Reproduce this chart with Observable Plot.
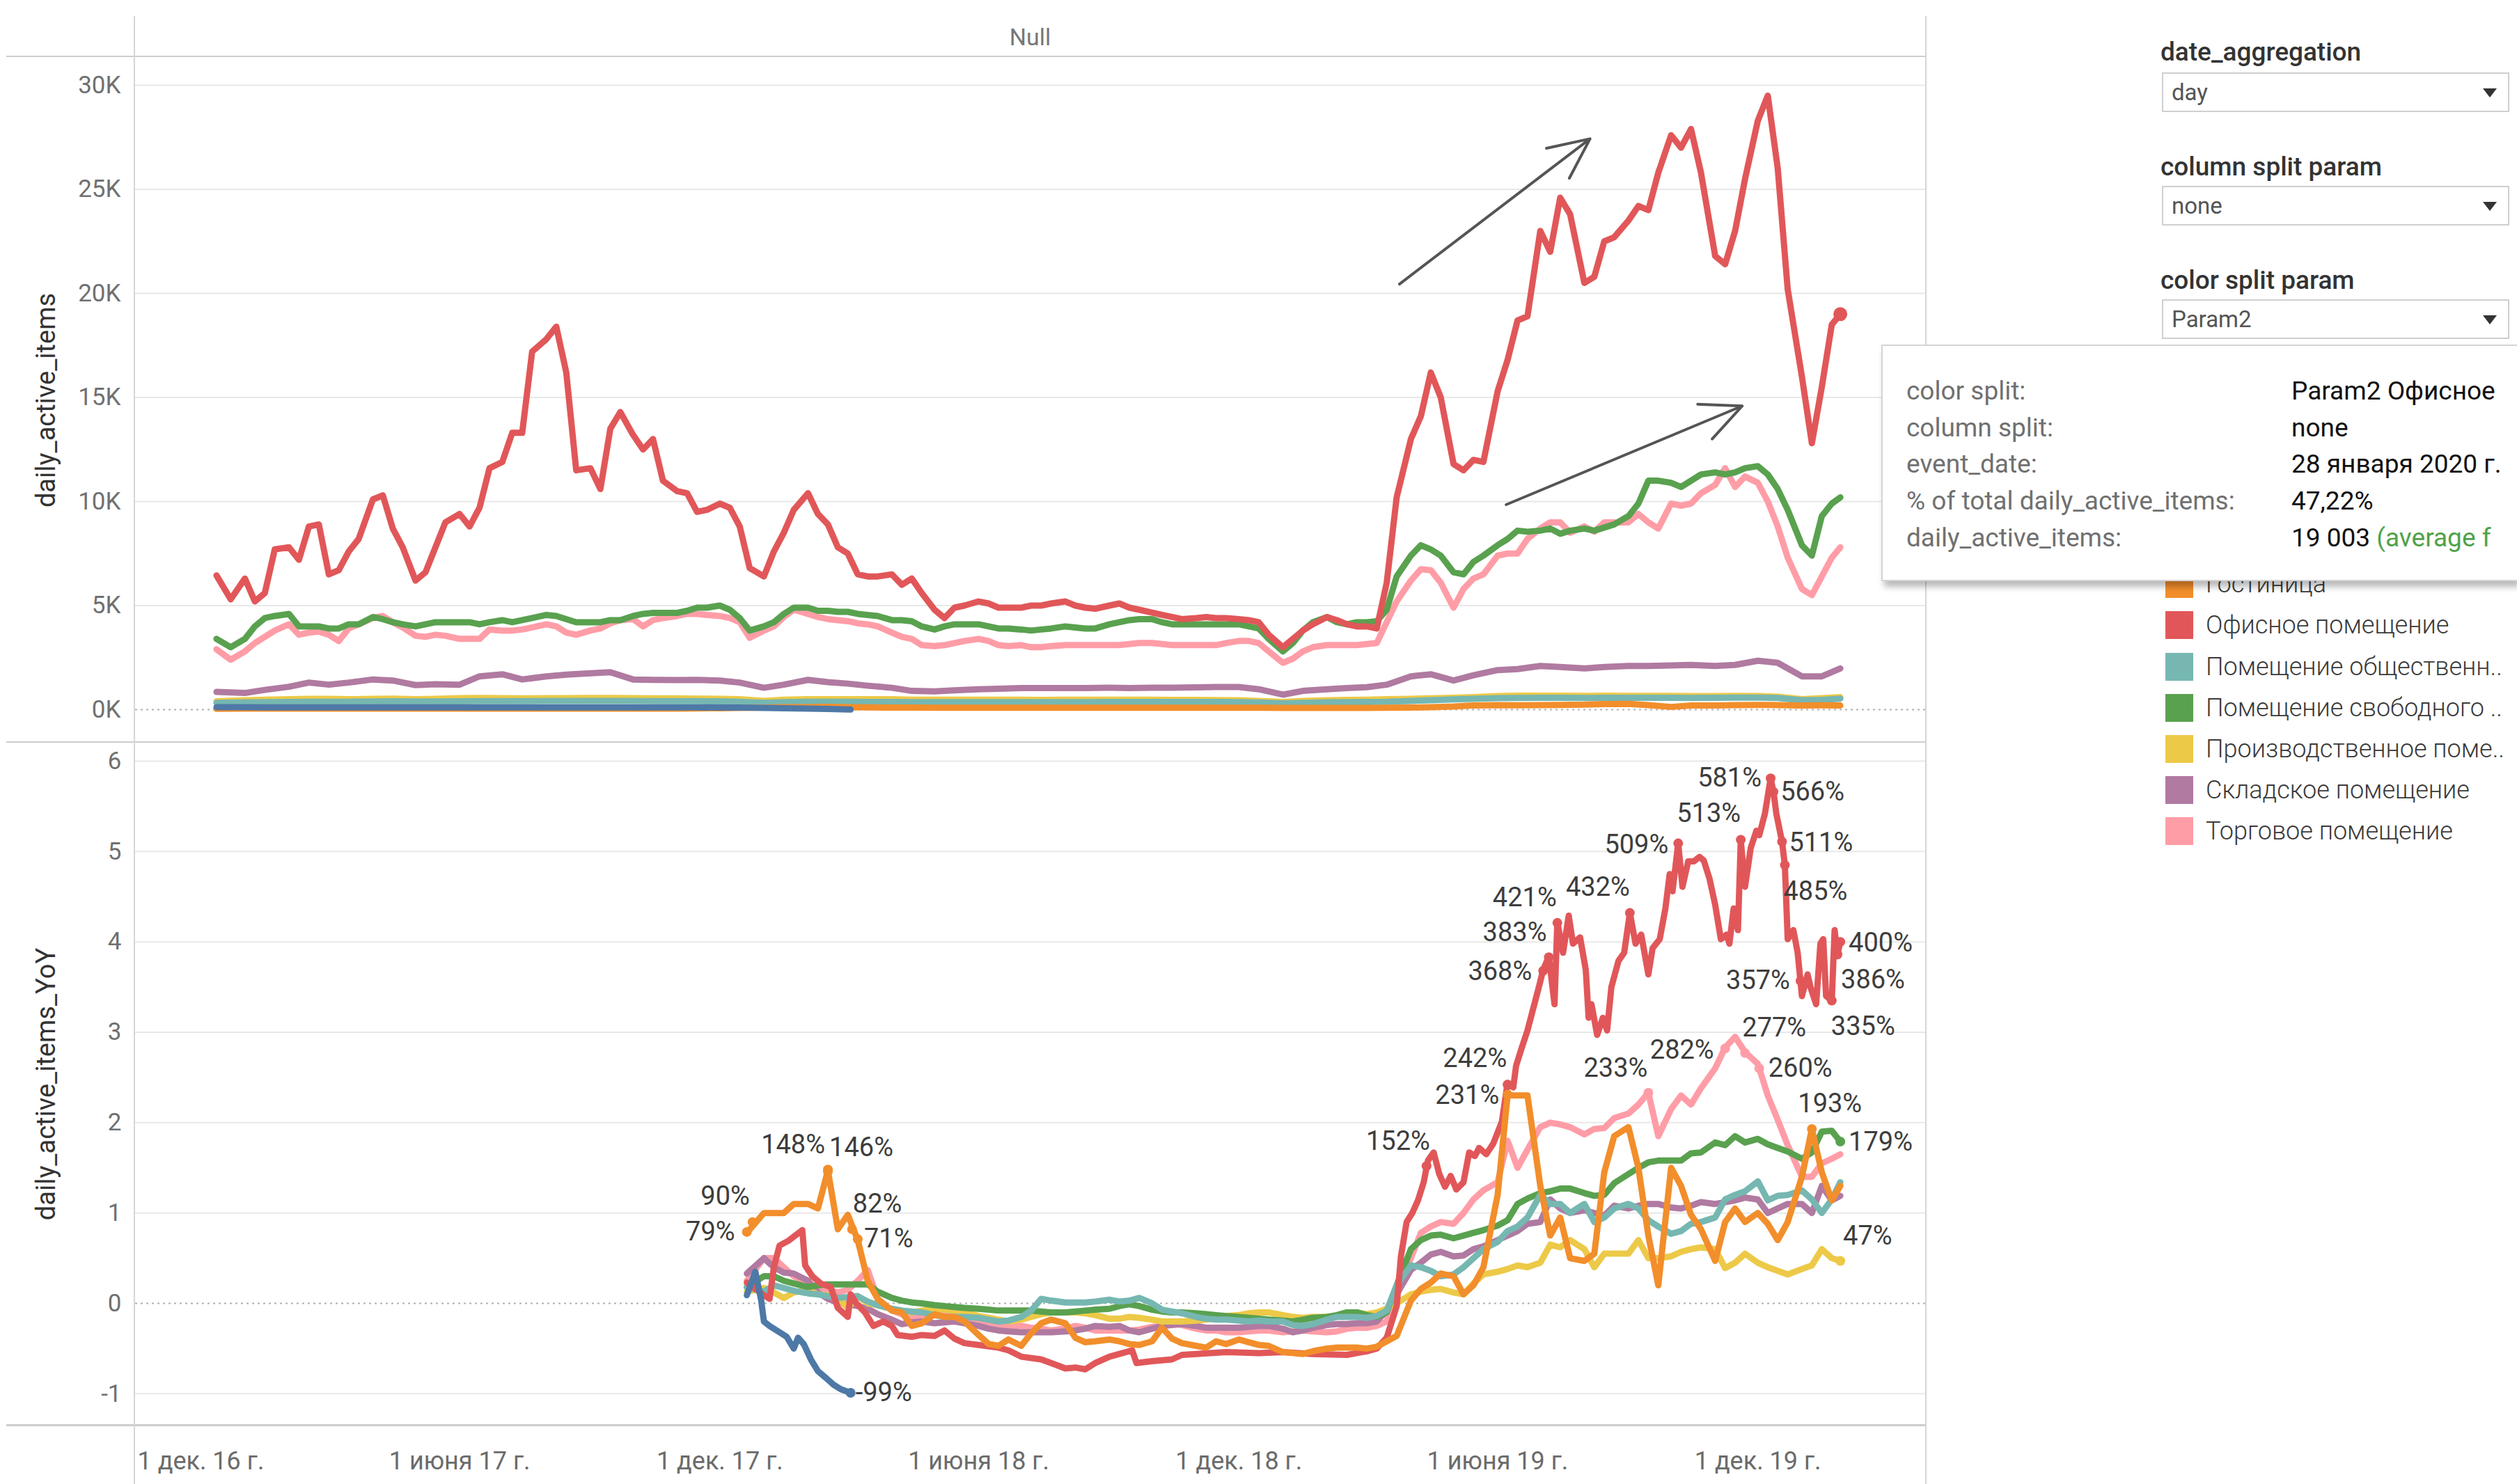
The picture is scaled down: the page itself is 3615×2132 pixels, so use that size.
<!DOCTYPE html>
<html><head><meta charset="utf-8">
<script src="https://cdn.jsdelivr.net/npm/d3@7"></script>
<script src="https://cdn.jsdelivr.net/npm/@observablehq/plot@0.6"></script>
<style>
html,body{margin:0;padding:0}
body{width:3615px;height:2132px;overflow:hidden;background:#fff;position:relative;font-family:Roboto,"Noto Sans",sans-serif}
.abs{position:absolute}
.hline{position:absolute;background:#cdcdcd}
.vline{position:absolute;background:#d6d6d6}
.plabel{position:absolute;left:3103px;font-weight:500;font-size:37px;line-height:42px;color:#333;white-space:nowrap}
.box{position:absolute;left:3105px;width:495px;height:53px;border:2px solid #cfcfcf;background:#fff}
.box .val{position:absolute;left:12px;top:0;line-height:53px;font-size:33px;color:#555}
.box .tri{position:absolute;left:459px;top:21px;width:0;height:0;border-left:10px solid transparent;border-right:10px solid transparent;border-top:13px solid #333}
.lgsw{position:absolute;left:3110px;width:40px;height:40px}
.lgtx{position:absolute;left:3168px;font-size:36px;line-height:44px;color:#3a3a3a;font-weight:300;white-space:nowrap}
.tip{position:absolute;left:2702px;top:495px;width:911px;height:336px;background:#fff;border:2px solid #d4d4d4;border-right:none;box-shadow:4px 8px 9px rgba(0,0,0,0.28);z-index:5;overflow:hidden}
.tip .tl{position:absolute;left:34px;font-size:37px;line-height:44px;color:#707070;white-space:nowrap}
.tip .tv{position:absolute;left:587px;font-size:37px;line-height:44px;color:#111;white-space:nowrap}
</style></head>
<body>
<div id="topChart" class="abs" style="left:0;top:82px"></div>
<div id="bottomChart" class="abs" style="left:0;top:1067px"></div>

<div class="hline" style="left:9px;top:80px;width:2757px;height:2px"></div>
<div class="hline" style="left:9px;top:1065px;width:2757px;height:2px"></div>
<div class="hline" style="left:9px;top:2046px;width:2757px;height:3px"></div>
<div class="vline" style="left:192px;top:23px;width:2px;height:2109px"></div>
<div class="vline" style="left:2765px;top:23px;width:2px;height:2109px"></div>
<div id="header" class="abs" style="left:194px;top:33px;width:2571px;text-align:center;font-size:34px;line-height:40px;color:#777"></div>

<div id="panel"></div>

<script>
// ---------------- DATA ----------------
const headerText = "Null";
const topAxisTitle = "daily_active_items";
const bottomAxisTitle = "daily_active_items_YoY";

const topTicks = [0, 5, 10, 15, 20, 25, 30];
const topTickLabels = ["0K", "5K", "10K", "15K", "20K", "25K", "30K"];
const bottomTicks = [-1, 0, 1, 2, 3, 4, 5, 6];
const bottomTickLabels = ["-1", "0", "1", "2", "3", "4", "5", "6"];
const xTickDates = ["2016-12-01", "2017-06-01", "2017-12-01", "2018-06-01", "2018-12-01", "2019-06-01", "2019-12-01"];
const xTickLabels = ["1 дек. 16 г.", "1 июня 17 г.", "1 дек. 17 г.", "1 июня 18 г.", "1 дек. 18 г.", "1 июня 19 г.", "1 дек. 19 г."];

const categories = ["Гостиница", "Офисное помещение", "Помещение общественн..", "Помещение свободного ..", "Производственное поме..", "Складское помещение", "Торговое помещение"];
const categoryColors = ["#f28e2b", "#e15759", "#76b7b2", "#59a14f", "#edc948", "#b07aa1", "#ff9da7"];
const hiddenCategory = "hidden"; // first legend entry, covered by the tooltip
const hiddenColor = "#4e79a7";

const paramLabels = ["date_aggregation", "column split param", "color split param"];
const paramValues = ["day", "none", "Param2"];

const tooltipLabels = ["color split:", "column split:", "event_date:", "% of total daily_active_items:", "daily_active_items:"];
const tooltipValues = ["Param2 Офисное", "none", "28 января 2020 г.", "47,22%", "19 003"];
const tooltipNote = "(average f";
const hoverPoint = {date: "2020-01-28", value: 19.003};

// weekly grid for the main series (thousands of items)
const weekDates = [
"2016-12-12","2016-12-22",
"2017-01-01","2017-01-08","2017-01-15","2017-01-22","2017-02-01","2017-02-08","2017-02-15","2017-02-22",
"2017-03-01","2017-03-08","2017-03-15","2017-03-22","2017-04-01","2017-04-08","2017-04-15","2017-04-22",
"2017-05-01","2017-05-08","2017-05-15","2017-05-22","2017-06-01","2017-06-08","2017-06-15","2017-06-22",
"2017-07-01","2017-07-08","2017-07-15","2017-07-22","2017-08-01","2017-08-08","2017-08-15","2017-08-22",
"2017-09-01","2017-09-08","2017-09-15","2017-09-22","2017-10-01","2017-10-08","2017-10-15","2017-10-22",
"2017-11-01","2017-11-08","2017-11-15","2017-11-22","2017-12-01","2017-12-08","2017-12-15","2017-12-22",
"2018-01-01","2018-01-08","2018-01-15","2018-01-22","2018-02-01","2018-02-08","2018-02-15","2018-02-22",
"2018-03-01","2018-03-08","2018-03-15","2018-03-22","2018-04-01","2018-04-08","2018-04-15","2018-04-22",
"2018-05-01","2018-05-08","2018-05-15","2018-05-22","2018-06-01","2018-06-08","2018-06-15","2018-06-22",
"2018-07-01","2018-07-08","2018-07-15","2018-07-22","2018-08-01","2018-08-08","2018-08-15","2018-08-22",
"2018-09-01","2018-09-08","2018-09-15","2018-09-22","2018-10-01","2018-10-08","2018-10-15","2018-10-22",
"2018-11-01","2018-11-08","2018-11-15","2018-11-22","2018-12-01","2018-12-08","2018-12-15","2018-12-22",
"2019-01-01","2019-01-08","2019-01-15","2019-01-22","2019-02-01","2019-02-08","2019-02-15","2019-02-22",
"2019-03-01","2019-03-08","2019-03-15","2019-03-22","2019-04-01","2019-04-08","2019-04-15","2019-04-22",
"2019-05-01","2019-05-08","2019-05-15","2019-05-22","2019-06-01","2019-06-08","2019-06-15","2019-06-22",
"2019-07-01","2019-07-08","2019-07-15","2019-07-22","2019-08-01","2019-08-08","2019-08-15","2019-08-22",
"2019-09-01","2019-09-08","2019-09-15","2019-09-22","2019-10-01","2019-10-08","2019-10-15","2019-10-22",
"2019-11-01","2019-11-08","2019-11-15","2019-11-22","2019-12-01","2019-12-08","2019-12-15","2019-12-22",
"2020-01-01","2020-01-08","2020-01-15","2020-01-22","2020-01-28"];

const officeTop = [6.45,5.3,
6.3,5.2,5.6,7.7, 7.8,7.2,8.8,8.9, 6.5,6.7,7.6,8.2, 10.1,10.3,8.7,7.8, 6.2,6.6,7.8,9.0, 9.4,8.8,9.7,11.6,
11.9,13.3,13.3,17.2, 17.8,18.4,16.2,11.5, 11.6,10.6,13.5,14.3, 13.2,12.5,13.0,11.0, 10.5,10.4,9.5,9.6, 9.9,9.7,8.8,6.8,
6.4,7.6,8.5,9.6, 10.4,9.4,8.9,7.8, 7.5,6.5,6.4,6.4, 6.5,6.0,6.3,5.6, 4.8,4.4,4.9,5.0, 5.2,5.1,4.9,4.9,
4.9,5.0,5.0,5.1, 5.2,5.0,4.9,4.85, 5.0,5.1,4.9,4.8, 4.66,4.55,4.45,4.35, 4.4,4.45,4.4,4.4, 4.35,4.3,4.2,3.6,
3.0,3.4,3.8,4.1, 4.45,4.3,4.1,4.0, 4.0,3.9,6.1,10.2, 13.0,14.1,16.2,15.0, 11.8,11.5,12.0,11.9, 15.3,16.8,18.7,18.9,
23.0,22.0,24.6,23.8, 20.5,20.8,22.5,22.7, 23.5,24.2,24.0,25.8, 27.6,27.0,27.9,25.8, 21.8,21.4,23.0,25.5, 28.3,29.5,26.0,20.2,
16.0,12.8,15.5,18.5,19.003];

const freeTop = [3.4,3.0,
3.4,4.0,4.4,4.5, 4.6,4.0,4.0,4.0, 3.9,3.9,4.1,4.1, 4.45,4.35,4.2,4.1, 4.0,4.1,4.2,4.2, 4.2,4.2,4.1,4.2,
4.3,4.2,4.3,4.4, 4.55,4.5,4.35,4.2, 4.2,4.2,4.3,4.3, 4.5,4.6,4.65,4.65, 4.65,4.75,4.9,4.9, 5.0,4.8,4.4,3.8,
4.0,4.2,4.6,4.9, 4.9,4.75,4.75,4.7, 4.7,4.6,4.55,4.5, 4.3,4.3,4.25,4.0, 3.85,4.0,4.1,4.1, 4.1,4.0,3.9,3.9,
3.85,3.8,3.85,3.9, 4.0,3.95,3.9,3.9, 4.1,4.2,4.3,4.35, 4.35,4.2,4.1,4.1, 4.1,4.1,4.1,4.1, 4.1,4.0,3.9,3.4,
2.8,3.2,3.8,4.2, 4.45,4.2,4.1,4.2, 4.2,4.25,4.8,6.4, 7.4,7.9,7.7,7.4, 6.6,6.5,7.1,7.4, 7.9,8.2,8.6,8.55,
8.6,8.7,8.45,8.6, 8.7,8.6,8.75,8.9, 9.3,9.9,11.0,11.0, 10.9,10.7,11.0,11.3, 11.4,11.3,11.4,11.6, 11.7,11.3,10.6,9.6,
7.9,7.4,9.3,9.9,10.2];

const retailTop = [2.9,2.4,
2.8,3.2,3.5,3.8, 4.1,3.6,3.7,3.75, 3.6,3.3,3.9,4.1, 4.4,4.5,4.2,3.95, 3.55,3.5,3.6,3.55, 3.4,3.4,3.4,3.85,
3.8,3.8,3.85,3.95, 4.1,4.0,3.7,3.6, 3.8,3.9,4.15,4.3, 4.35,4.0,4.3,4.4, 4.5,4.6,4.6,4.55, 4.5,4.4,4.2,3.45,
3.8,4.0,4.45,4.8, 4.6,4.45,4.35,4.3, 4.25,4.15,4.1,4.0, 3.7,3.5,3.4,3.1, 3.05,3.1,3.2,3.3, 3.4,3.3,3.1,3.05,
3.1,3.0,3.0,3.05, 3.1,3.1,3.1,3.1, 3.1,3.1,3.15,3.2, 3.2,3.15,3.1,3.1, 3.1,3.1,3.1,3.2, 3.3,3.3,3.2,2.8,
2.25,2.45,2.8,3.0, 3.1,3.1,3.1,3.1, 3.15,3.2,4.2,5.2, 6.2,6.75,6.7,6.1, 4.9,5.8,6.3,6.5, 7.4,7.5,7.5,8.2,
8.7,9.0,9.0,8.5, 8.8,8.55,9.0,9.0, 9.0,9.4,9.0,8.7, 9.9,9.8,9.9,10.4, 10.8,11.6,10.7,11.2, 10.9,10.0,8.8,7.3,
5.8,5.5,6.4,7.3,7.8];

// half-month grid for the small series (thousands of items)
const halfMonthDates = [
"2016-12-12",
"2017-01-01","2017-01-15","2017-02-01","2017-02-15","2017-03-01","2017-03-15","2017-04-01","2017-04-15",
"2017-05-01","2017-05-15","2017-06-01","2017-06-15","2017-07-01","2017-07-15","2017-08-01","2017-08-15",
"2017-09-01","2017-09-15","2017-10-01","2017-10-15","2017-11-01","2017-11-15","2017-12-01","2017-12-15",
"2018-01-01","2018-01-15","2018-02-01","2018-02-15","2018-03-01","2018-03-15","2018-04-01","2018-04-15",
"2018-05-01","2018-05-15","2018-06-01","2018-06-15","2018-07-01","2018-07-15","2018-08-01","2018-08-15",
"2018-09-01","2018-09-15","2018-10-01","2018-10-15","2018-11-01","2018-11-15","2018-12-01","2018-12-15",
"2019-01-01","2019-01-15","2019-02-01","2019-02-15","2019-03-01","2019-03-15","2019-04-01","2019-04-15",
"2019-05-01","2019-05-15","2019-06-01","2019-06-15","2019-07-01","2019-07-15","2019-08-01","2019-08-15",
"2019-09-01","2019-09-15","2019-10-01","2019-10-15","2019-11-01","2019-11-15","2019-12-01","2019-12-15",
"2020-01-01","2020-01-15","2020-01-28"];

const warehouseTop = [0.85,0.8,0.95,1.1,1.3,1.2,1.3,1.45,1.4,1.18,
1.22,1.2,1.6,1.7,1.45,1.6,1.68,1.75,1.8,1.45,
1.43,1.42,1.43,1.4,1.3,1.05,1.2,1.43,1.32,1.25,
1.15,1.05,0.9,0.88,0.93,0.98,1.0,1.04,1.04,1.04,
1.04,1.05,1.04,1.05,1.05,1.07,1.09,1.09,0.98,0.72,
0.9,0.98,1.04,1.08,1.2,1.6,1.7,1.4,1.65,1.9,
1.95,2.1,2.05,1.98,2.05,2.1,2.1,2.12,2.15,2.1,
2.15,2.35,2.25,1.6,1.6,1.98];

const industrialTop = [0.4,0.45,0.48,0.5,0.52,0.52,0.5,0.52,0.53,0.5,
0.52,0.55,0.56,0.55,0.54,0.55,0.55,0.56,0.56,0.55,
0.54,0.54,0.53,0.52,0.5,0.42,0.48,0.5,0.5,0.5,
0.5,0.5,0.48,0.48,0.48,0.48,0.48,0.48,0.47,0.48,
0.48,0.48,0.48,0.48,0.47,0.47,0.46,0.45,0.42,0.37,
0.42,0.45,0.47,0.48,0.5,0.52,0.54,0.57,0.6,0.65,
0.67,0.67,0.67,0.66,0.67,0.66,0.66,0.66,0.65,0.65,
0.66,0.65,0.62,0.5,0.55,0.6];

const publicTop = [0.33,0.35,0.36,0.37,0.38,0.38,0.38,0.39,0.4,0.39,
0.39,0.4,0.41,0.41,0.41,0.42,0.42,0.42,0.42,0.42,
0.41,0.41,0.41,0.4,0.38,0.33,0.36,0.38,0.38,0.38,
0.37,0.37,0.36,0.36,0.36,0.36,0.36,0.36,0.36,0.36,
0.36,0.37,0.37,0.37,0.37,0.37,0.37,0.36,0.34,0.3,
0.33,0.35,0.36,0.37,0.38,0.42,0.45,0.49,0.52,0.55,
0.56,0.57,0.57,0.56,0.57,0.57,0.57,0.57,0.56,0.57,
0.58,0.58,0.56,0.45,0.47,0.53];

const hotelTop = [0.04,0.05,0.05,0.05,0.05,0.05,0.05,0.05,0.05,0.05,
0.05,0.05,0.05,0.05,0.05,0.05,0.05,0.05,0.05,0.05,
0.05,0.05,0.06,0.07,0.08,0.1,0.12,0.12,0.13,0.12,
0.11,0.1,0.1,0.09,0.09,0.09,0.09,0.09,0.09,0.09,
0.09,0.09,0.09,0.09,0.09,0.09,0.09,0.09,0.09,0.08,
0.08,0.08,0.08,0.08,0.09,0.1,0.12,0.15,0.2,0.22,
0.21,0.22,0.23,0.24,0.27,0.28,0.22,0.13,0.2,0.2,
0.22,0.23,0.22,0.2,0.21,0.2];

const blueTopDates = ["2016-12-12",
"2017-01-01","2017-01-15","2017-02-01","2017-02-15","2017-03-01","2017-03-15","2017-04-01","2017-04-15",
"2017-05-01","2017-05-15","2017-06-01","2017-06-15","2017-07-01","2017-07-15","2017-08-01","2017-08-15",
"2017-09-01","2017-09-15","2017-10-01","2017-10-15","2017-11-01","2017-11-15","2017-12-01","2017-12-15",
"2018-01-01","2018-01-15","2018-02-01","2018-02-15","2018-03-01","2018-03-03"];
const blueTop = [0.12,0.12,0.11,0.11,0.11,0.11,0.11,0.11,0.11,0.11,
0.11,0.11,0.11,0.11,0.11,0.11,0.11,0.11,0.11,0.11,
0.11,0.11,0.11,0.1,0.1,0.08,0.07,0.05,0.03,0.01,0.005];

// YoY (bottom panel), weekly grid
const yoyDates = ["2017-12-20",
"2018-01-01","2018-01-08","2018-01-15","2018-01-22","2018-02-01","2018-02-08","2018-02-15","2018-02-22",
"2018-03-01","2018-03-08","2018-03-15","2018-03-22","2018-04-01","2018-04-08","2018-04-15","2018-04-22",
"2018-05-01","2018-05-08","2018-05-15","2018-05-22","2018-06-01","2018-06-08","2018-06-15","2018-06-22",
"2018-07-01","2018-07-08","2018-07-15","2018-07-22","2018-08-01","2018-08-08","2018-08-15","2018-08-22",
"2018-09-01","2018-09-08","2018-09-15","2018-09-22","2018-10-01","2018-10-08","2018-10-15","2018-10-22",
"2018-11-01","2018-11-08","2018-11-15","2018-11-22","2018-12-01","2018-12-08","2018-12-15","2018-12-22",
"2019-01-01","2019-01-08","2019-01-15","2019-01-22","2019-02-01","2019-02-08","2019-02-15","2019-02-22",
"2019-03-01","2019-03-08","2019-03-15","2019-03-22","2019-04-01","2019-04-08","2019-04-15","2019-04-22",
"2019-05-01","2019-05-08","2019-05-15","2019-05-22","2019-06-01","2019-06-08","2019-06-15","2019-06-22",
"2019-07-01","2019-07-08","2019-07-15","2019-07-22","2019-08-01","2019-08-08","2019-08-15","2019-08-22",
"2019-09-01","2019-09-08","2019-09-15","2019-09-22","2019-10-01","2019-10-08","2019-10-15","2019-10-22",
"2019-11-01","2019-11-08","2019-11-15","2019-11-22","2019-12-01","2019-12-08","2019-12-15","2019-12-22",
"2020-01-01","2020-01-08","2020-01-15","2020-01-22","2020-01-28"];

const hotelYoY = [0.78,
1.0,1.0,1.0,1.1, 1.1,1.05,1.47,0.82, 0.98,0.7,0.25,0.05, -0.08,-0.1,-0.25,-0.22, -0.12,-0.15,-0.15,-0.2, -0.35,-0.45,-0.47,-0.4,
-0.47,-0.33,-0.22,-0.18, -0.22,-0.38,-0.43,-0.42, -0.4,-0.42,-0.45,-0.46, -0.42,-0.27,-0.39,-0.44, -0.47,-0.49,-0.42,-0.45, -0.4,-0.43,-0.46,-0.47,
-0.54,-0.55,-0.56,-0.53, -0.5,-0.49,-0.49,-0.49, -0.5,-0.48,-0.42,-0.36, 0.03,0.16,0.23,0.33, 0.3,0.1,0.2,0.4, 1.2,2.3,2.3,2.3,
1.3,0.75,0.95,0.5, 0.47,0.55,1.45,1.85, 1.95,1.5,0.75,0.2, 1.5,1.3,0.98,0.82, 0.47,0.9,1.05,0.9, 1.0,0.88,0.7,0.9,
1.4,1.93,1.45,1.14,1.3];

const retailYoY = [0.25,
0.5,0.5,0.4,0.3, 0.22,0.18,0.15,0.12, 0.15,0.25,0.37,0.05, -0.08,-0.12,-0.15,-0.15, -0.12,-0.1,-0.12,-0.15, -0.18,-0.22,-0.25,-0.25,
-0.25,-0.27,-0.28,-0.3, -0.28,-0.25,-0.27,-0.3, -0.3,-0.3,-0.3,-0.29, -0.26,-0.25,-0.22,-0.24, -0.28,-0.3,-0.3,-0.32, -0.32,-0.31,-0.3,-0.3,
-0.32,-0.31,-0.3,-0.31, -0.32,-0.31,-0.28,-0.27, -0.27,-0.25,-0.2,0.15, 0.5,0.78,0.85,0.9, 0.88,1.0,1.15,1.25, 1.34,1.8,1.5,1.7,
1.95,2.0,1.98,1.95, 1.87,1.93,1.94,2.05, 2.1,2.2,2.33,1.85, 2.15,2.3,2.2,2.38, 2.6,2.83,2.95,2.78, 2.65,2.3,2.03,1.75,
1.4,1.4,1.55,1.6,1.65];

const freeYoY = [0.18,
0.3,0.3,0.25,0.22, 0.18,0.2,0.21,0.21, 0.21,0.21,0.21,0.13, 0.06,0.03,0.01,0.0, -0.02,-0.03,-0.04,-0.05, -0.06,-0.07,-0.08,-0.08,
-0.08,-0.08,-0.09,-0.1, -0.1,-0.09,-0.08,-0.07, -0.06,-0.03,-0.01,-0.03, -0.07,-0.09,-0.1,-0.1, -0.11,-0.12,-0.13,-0.14, -0.15,-0.16,-0.17,-0.18,
-0.19,-0.2,-0.18,-0.16, -0.15,-0.13,-0.1,-0.1, -0.13,-0.15,-0.1,0.2, 0.6,0.7,0.75,0.76, 0.72,0.75,0.78,0.81, 0.86,0.92,1.1,1.16,
1.22,1.24,1.27,1.27, 1.22,1.19,1.2,1.33, 1.43,1.5,1.56,1.58, 1.58,1.58,1.66,1.67, 1.78,1.75,1.85,1.78, 1.82,1.76,1.72,1.68,
1.6,1.67,1.9,1.91,1.79];

const publicYoY = [0.18,
0.13,0.2,0.17,0.14, 0.11,0.1,0.08,0.06, 0.07,0.08,0.02,-0.02, -0.06,-0.08,-0.09,-0.1, -0.13,-0.15,-0.15,-0.15, -0.16,-0.18,-0.2,-0.19,
-0.15,-0.08,0.05,0.03, 0.01,0.01,0.01,0.02, 0.04,0.02,0.03,0.06, 0.0,-0.07,-0.09,-0.11, -0.15,-0.17,-0.18,-0.18, -0.19,-0.2,-0.19,-0.2,
-0.2,-0.24,-0.25,-0.23, -0.18,-0.15,-0.15,-0.15, -0.16,-0.14,-0.08,0.2, 0.42,0.4,0.36,0.3, 0.32,0.4,0.5,0.6, 0.68,0.8,0.85,0.95,
1.2,1.1,1.1,1.0, 1.1,0.9,0.95,1.05, 1.1,1.05,0.92,0.85, 0.77,0.8,0.88,0.9, 0.95,1.15,1.2,1.24, 1.35,1.14,1.19,1.2,
1.25,1.15,1.0,1.15,1.34];

const warehouseYoY = [0.33,
0.5,0.4,0.34,0.33, 0.25,0.12,0.05,0.01, -0.01,-0.03,-0.06,-0.12, -0.18,-0.23,-0.21,-0.2, -0.22,-0.21,-0.2,-0.22, -0.25,-0.28,-0.3,-0.31,
-0.32,-0.32,-0.32,-0.32, -0.31,-0.3,-0.28,-0.25, -0.26,-0.25,-0.3,-0.32, -0.28,-0.25,-0.24,-0.23, -0.25,-0.27,-0.27,-0.27, -0.27,-0.26,-0.25,-0.25,
-0.28,-0.32,-0.3,-0.27, -0.24,-0.23,-0.23,-0.22, -0.22,-0.2,-0.08,0.1, 0.37,0.45,0.54,0.57, 0.52,0.53,0.6,0.63, 0.7,0.75,0.8,0.88,
0.9,1.15,1.05,1.0, 1.03,1.0,0.97,1.08, 1.05,1.08,1.1,1.1, 1.06,1.05,1.08,1.12, 1.1,1.12,1.14,1.17, 1.15,1.0,1.05,1.1,
1.1,1.0,1.3,1.14,1.19];

const industrialYoY = [0.13,
0.17,0.12,0.06,0.12, 0.15,0.1,0.09,0.06, -0.05,0.08,0.0,-0.02, -0.06,-0.08,-0.1,-0.08, -0.06,-0.07,-0.08,-0.1, -0.14,-0.16,-0.18,-0.2,
-0.18,-0.15,-0.12,-0.1, -0.1,-0.1,-0.11,-0.13, -0.17,-0.17,-0.15,-0.16, -0.18,-0.2,-0.2,-0.2, -0.19,-0.18,-0.16,-0.14, -0.13,-0.11,-0.1,-0.1,
-0.13,-0.15,-0.16,-0.15, -0.15,-0.14,-0.12,-0.1, -0.12,-0.1,-0.06,0.0, 0.1,0.13,0.15,0.16, 0.12,0.1,0.22,0.32, 0.35,0.38,0.42,0.4,
0.45,0.65,0.62,0.7, 0.6,0.4,0.55,0.55, 0.55,0.7,0.5,0.5, 0.52,0.57,0.6,0.62, 0.6,0.39,0.45,0.55, 0.45,0.4,0.36,0.32,
0.38,0.42,0.6,0.5,0.47];

const officeYoY = [["2017-12-20",0.23],["2018-01-01",0.09],["2018-01-05",0.05],["2018-01-08",0.4],["2018-01-12",0.64],["2018-01-18",0.69],
["2018-01-28",0.81],["2018-01-30",0.42],["2018-02-04",0.3],["2018-02-10",0.22],["2018-02-17",0.18],["2018-02-22",-0.05],["2018-03-01",-0.15],
["2018-03-03",0.1],["2018-03-07",0.0],["2018-03-13",-0.1],["2018-03-19",-0.25],["2018-03-26",-0.2],["2018-04-01",-0.25],["2018-04-05",-0.35],
["2018-04-15",-0.37],["2018-04-22",-0.35],["2018-05-01",-0.36],["2018-05-08",-0.3],["2018-05-15",-0.39],["2018-05-22",-0.44],["2018-06-01",-0.46],
["2018-06-15",-0.49],["2018-06-22",-0.52],["2018-07-01",-0.59],["2018-07-15",-0.62],["2018-07-22",-0.66],["2018-08-01",-0.72],["2018-08-08",-0.71],
["2018-08-15",-0.73],["2018-08-22",-0.66],["2018-09-01",-0.59],["2018-09-08",-0.56],["2018-09-17",-0.52],["2018-09-20",-0.66],["2018-10-01",-0.64],
["2018-10-15",-0.62],["2018-10-22",-0.57],["2018-11-01",-0.56],["2018-11-22",-0.54],["2018-12-15",-0.55],["2019-01-01",-0.54],["2019-01-22",-0.56],
["2019-02-15",-0.57],["2019-02-22",-0.55],["2019-03-01",-0.53],["2019-03-08",-0.5],["2019-03-15",-0.38],["2019-03-22",-0.03],["2019-03-25",0.52],
["2019-03-29",0.9],["2019-04-02",1.0],["2019-04-06",1.14],["2019-04-10",1.34],["2019-04-13",1.58],["2019-04-17",1.67],["2019-04-21",1.43],
["2019-04-25",1.29],["2019-04-29",1.41],["2019-05-03",1.26],["2019-05-08",1.34],["2019-05-12",1.67],["2019-05-16",1.63],["2019-05-19",1.72],
["2019-05-24",1.65],["2019-05-29",1.77],["2019-06-04",2.01],["2019-06-08",2.44],["2019-06-12",2.39],["2019-06-14",2.63],["2019-06-18",2.83],
["2019-06-22",3.02],["2019-06-26",3.26],["2019-06-30",3.5],["2019-07-03",3.69],["2019-07-07",3.84],["2019-07-11",3.31],["2019-07-13",4.22],
["2019-07-17",3.88],["2019-07-21",4.29],["2019-07-24",3.98],["2019-07-29",4.05],["2019-08-02",3.69],["2019-08-04",3.16],["2019-08-06",3.31],
["2019-08-10",2.97],["2019-08-14",3.16],["2019-08-17",3.02],["2019-08-20",3.5],["2019-08-25",3.79],["2019-08-29",3.88],["2019-09-02",4.32],
["2019-09-06",3.98],["2019-09-10",4.08],["2019-09-15",3.64],["2019-09-18",3.93],["2019-09-23",4.03],["2019-09-27",4.37],["2019-09-30",4.75],
["2019-10-02",4.56],["2019-10-06",5.09],["2019-10-09",4.61],["2019-10-13",4.89],["2019-10-17",4.89],["2019-10-21",4.94],["2019-10-24",4.9],
["2019-10-28",4.7],["2019-11-01",4.41],["2019-11-05",4.03],["2019-11-09",4.08],["2019-11-11",3.98],["2019-11-14",4.37],["2019-11-17",4.13],
["2019-11-19",5.12],["2019-11-22",4.61],["2019-11-26",5.04],["2019-11-30",5.23],["2019-12-02",5.18],["2019-12-06",5.42],["2019-12-10",5.81],
["2019-12-12",5.66],["2019-12-14",5.42],["2019-12-18",5.11],["2019-12-20",4.85],["2019-12-22",4.03],["2019-12-26",4.13],["2019-12-29",3.88],
["2020-01-01",3.4],["2020-01-05",3.64],["2020-01-07",3.5],["2020-01-11",3.31],["2020-01-14",3.98],["2020-01-16",4.03],["2020-01-18",3.4],
["2020-01-22",3.35],["2020-01-24",4.13],["2020-01-26",3.86],["2020-01-28",4.0]];

const blueYoY = [["2017-12-20",0.09],["2017-12-26",0.35],["2017-12-30",0.04],["2018-01-01",-0.2],["2018-01-05",-0.25],["2018-01-12",-0.32],
["2018-01-17",-0.37],["2018-01-22",-0.5],["2018-01-25",-0.38],["2018-01-29",-0.45],["2018-02-03",-0.62],["2018-02-08",-0.75],
["2018-02-14",-0.83],["2018-02-19",-0.9],["2018-02-24",-0.95],["2018-03-03",-0.99]];

// point labels of the YoY panel: series, date, value, text
const yoyLabels = [
["Гостиница","2017-12-20",0.79,"79%"],["Гостиница","2017-12-24",0.90,"90%"],
["Гостиница","2018-02-15",1.48,"148%"],["Гостиница","2018-02-15",1.46,"146%"],
["Гостиница","2018-03-04",0.82,"82%"],["Гостиница","2018-03-08",0.71,"71%"],
["hidden","2018-03-03",-0.99,"-99%"],
["Офисное помещение","2019-04-12",1.52,"152%"],["Офисное помещение","2019-06-08",2.42,"242%"],
["Офисное помещение","2019-07-03",3.68,"368%"],["Офисное помещение","2019-07-07",3.83,"383%"],
["Офисное помещение","2019-07-13",4.21,"421%"],["Офисное помещение","2019-09-02",4.32,"432%"],
["Офисное помещение","2019-10-06",5.09,"509%"],["Офисное помещение","2019-11-19",5.13,"513%"],
["Офисное помещение","2019-12-10",5.81,"581%"],["Офисное помещение","2019-12-12",5.66,"566%"],
["Офисное помещение","2019-12-18",5.11,"511%"],["Офисное помещение","2019-12-20",4.85,"485%"],
["Офисное помещение","2019-12-31",3.57,"357%"],["Офисное помещение","2020-01-22",3.35,"335%"],
["Офисное помещение","2020-01-26",3.86,"386%"],["Офисное помещение","2020-01-28",4.00,"400%"],
["Гостиница","2019-06-08",2.31,"231%"],["Гостиница","2020-01-08",1.93,"193%"],
["Торговое помещение","2019-09-15",2.33,"233%"],["Торговое помещение","2019-11-08",2.82,"282%"],
["Торговое помещение","2019-11-22",2.77,"277%"],["Торговое помещение","2019-12-02",2.60,"260%"],
["Помещение свободного ..","2020-01-28",1.79,"179%"],["Производственное поме..","2020-01-28",0.47,"47%"]];

// annotation arrows drawn on the top panel (date, thousands)
const annotationArrows = [
{x1:"2019-03-24", y1:20.45, x2:"2019-08-05", y2:27.43},
{x1:"2019-06-07", y1:9.85, x2:"2019-11-20", y2:14.59}];

// ---------------- STYLE / PLACEMENT ----------------
const labelPlacement = {
"79%":["end",-17,0],"90%":["end",-4,-37],"148%":["end",-4,-35],"146%":["start",2,-34],
"82%":["start",1,-36],"71%":["start",9,0],"-99%":["start",7,0],
"152%":["end",5,-35],"242%":["end",-1,-37],"368%":["end",-16,1],"383%":["end",-3,-35],
"421%":["end",-1,-36],"432%":["end",0,-37],"509%":["end",-14,2],"513%":["end",0,-38],
"581%":["end",-13,0],"566%":["start",10,0],"511%":["start",10,2],"485%":["start",-2,38],
"357%":["end",-15,0],"335%":["start",-1,37],"386%":["start",5,37],"400%":["start",12,2],
"231%":["end",-12,1],"193%":["start",-20,-36],"233%":["end",-1,-35],"282%":["end",-16,2],
"277%":["start",-4,-36],"260%":["start",13,0],"179%":["start",12,1],"47%":["start",4,-36]};

const colorOf = {};
categories.forEach((c, i) => colorOf[c] = categoryColors[i]);
colorOf[hiddenCategory] = hiddenColor;

const parse = s => new Date(s + (s.length === 10 ? "T00:00:00Z" : ""));
const rows = (dates, values) => dates.map((d, i) => ({date: parse(d), value: values[i]})).filter(r => r.value != null);
const pairRows = pairs => pairs.map(([d, v]) => ({date: parse(d), value: v}));

const xDomain = [new Date("2016-10-16T00:00:00Z"), new Date("2020-03-28T10:00:00Z")];
const LW = 9;
const line = (data, color) => Plot.line(data, {x: "date", y: "value", stroke: color, strokeWidth: LW, strokeLinejoin: "round", strokeLinecap: "round"});

const [cHotel, cOffice, cPublic, cFree, cIndustrial, cWarehouse, cRetail] = categoryColors;

// ---------------- TOP PANEL ----------------
const topPlot = Plot.plot({
  width: 2766, height: 985,
  marginLeft: 194, marginRight: 0, marginTop: 0, marginBottom: 0,
  style: {fontFamily: "Roboto, sans-serif", background: "transparent", overflow: "visible"},
  x: {type: "utc", domain: xDomain, axis: null},
  y: {domain: [-1.605, 31.338], axis: null},
  marks: [
    Plot.gridY(topTicks.filter(t => t !== 0), {stroke: "#e8e8e8", strokeOpacity: 1, strokeWidth: 2}),
    Plot.ruleY([0], {stroke: "#b0b0b0", strokeWidth: 2, strokeDasharray: "3,5"}),
    Plot.axisY({ticks: topTicks, tickFormat: d => topTickLabels[topTicks.indexOf(d)], tickSize: 0, tickPadding: 21, fontSize: 35, color: "#707070", label: null}),
    Plot.text([topAxisTitle], {text: d => d, frameAnchor: "left", textAnchor: "middle", rotate: -90, dx: -128, fontSize: 38, fill: "#333"}),
    line(rows(weekDates, retailTop), cRetail),
    line(rows(halfMonthDates, warehouseTop), cWarehouse),
    line(rows(halfMonthDates, industrialTop), cIndustrial),
    line(rows(weekDates, freeTop), cFree),
    line(rows(halfMonthDates, publicTop), cPublic),
    line(rows(weekDates, officeTop), cOffice),
    line(rows(halfMonthDates, hotelTop), cHotel),
    line(rows(blueTopDates, blueTop), hiddenColor),
    Plot.dot([hoverPoint], {x: d => parse(d.date), y: "value", r: 10, fill: cOffice}),
    Plot.arrow(annotationArrows, {x1: d => parse(d.x1), y1: "y1", x2: d => parse(d.x2), y2: "y2", stroke: "#555", strokeWidth: 4, headLength: 24, headAngle: 50})
  ]
});
document.getElementById("topChart").appendChild(topPlot);

// ---------------- BOTTOM PANEL ----------------
const labelMarks = yoyLabels.flatMap(([s, d, v, t]) => {
  const [anchor, dx, dy] = labelPlacement[t];
  const r = [{date: parse(d), value: v, text: t}];
  return [
    Plot.dot(r, {x: "date", y: "value", r: 7, fill: colorOf[s]}),
    Plot.text(r, {x: "date", y: "value", text: "text", textAnchor: anchor, dx, dy, fontSize: 38, fill: "#3d3d3d"})
  ];
});

const bottomPlot = Plot.plot({
  width: 2766, height: 1065,
  marginLeft: 194, marginRight: 0, marginTop: 0, marginBottom: 85,
  style: {fontFamily: "Roboto, sans-serif", background: "transparent", overflow: "visible"},
  x: {type: "utc", domain: xDomain, axis: null},
  y: {domain: [-1.348, 6.2], axis: null},
  marks: [
    Plot.gridY(bottomTicks.filter(t => t !== 0), {stroke: "#e8e8e8", strokeOpacity: 1, strokeWidth: 2}),
    Plot.ruleY([0], {stroke: "#b0b0b0", strokeWidth: 2, strokeDasharray: "3,5"}),
    Plot.axisY({ticks: bottomTicks, tickFormat: d => bottomTickLabels[bottomTicks.indexOf(d)], tickSize: 0, tickPadding: 20, fontSize: 35, color: "#707070", label: null}),
    Plot.axisX({ticks: xTickDates.map(parse), tickFormat: d => xTickLabels[xTickDates.map(parse).findIndex(t => +t === +d)], tickSize: 0, tickPadding: 38, fontSize: 36, color: "#6b6b6b", label: null}),
    Plot.text([bottomAxisTitle], {text: d => d, frameAnchor: "left", textAnchor: "middle", rotate: -90, dx: -128, fontSize: 38, fill: "#333"}),
    line(rows(yoyDates, retailYoY), cRetail),
    line(rows(yoyDates, warehouseYoY), cWarehouse),
    line(rows(yoyDates, industrialYoY), cIndustrial),
    line(rows(yoyDates, freeYoY), cFree),
    line(rows(yoyDates, publicYoY), cPublic),
    line(pairRows(officeYoY), cOffice),
    line(rows(yoyDates, hotelYoY), cHotel),
    line(pairRows(blueYoY), hiddenColor),
    ...labelMarks
  ]
});
document.getElementById("bottomChart").appendChild(bottomPlot);

// ---------------- HTML PARTS ----------------
document.getElementById("header").textContent = headerText;

const panel = document.getElementById("panel");
const paramLabelTops = [54, 219, 382];
const paramBoxTops = [104, 267, 430];
paramLabels.forEach((lab, i) => {
  const l = document.createElement("div");
  l.className = "plabel"; l.style.top = paramLabelTops[i] + "px"; l.textContent = lab;
  panel.appendChild(l);
  const b = document.createElement("div");
  b.className = "box"; b.style.top = paramBoxTops[i] + "px";
  const v = document.createElement("span"); v.className = "val"; v.textContent = paramValues[i];
  const t = document.createElement("span"); t.className = "tri";
  b.appendChild(v); b.appendChild(t);
  panel.appendChild(b);
});

const legendCenters = [839, 898, 958, 1017, 1076, 1135, 1194];
categories.forEach((c, i) => {
  const sw = document.createElement("div");
  sw.className = "lgsw"; sw.style.top = (legendCenters[i] - 20) + "px"; sw.style.background = categoryColors[i];
  panel.appendChild(sw);
  const tx = document.createElement("div");
  tx.className = "lgtx"; tx.style.top = (legendCenters[i] - 22) + "px"; tx.textContent = c;
  panel.appendChild(tx);
});

const tip = document.createElement("div");
tip.className = "tip";
const rowTops = [43, 96, 148, 201, 254];
tooltipLabels.forEach((lab, i) => {
  const l = document.createElement("div");
  l.className = "tl"; l.style.top = rowTops[i] + "px"; l.textContent = lab;
  tip.appendChild(l);
  const v = document.createElement("div");
  v.className = "tv"; v.style.top = rowTops[i] + "px"; v.textContent = tooltipValues[i];
  if (i === tooltipLabels.length - 1) {
    const g = document.createElement("span");
    g.style.color = "#4fa34a"; g.textContent = " " + tooltipNote;
    v.appendChild(g);
  }
  tip.appendChild(v);
});
panel.appendChild(tip);
</script>
</body></html>
